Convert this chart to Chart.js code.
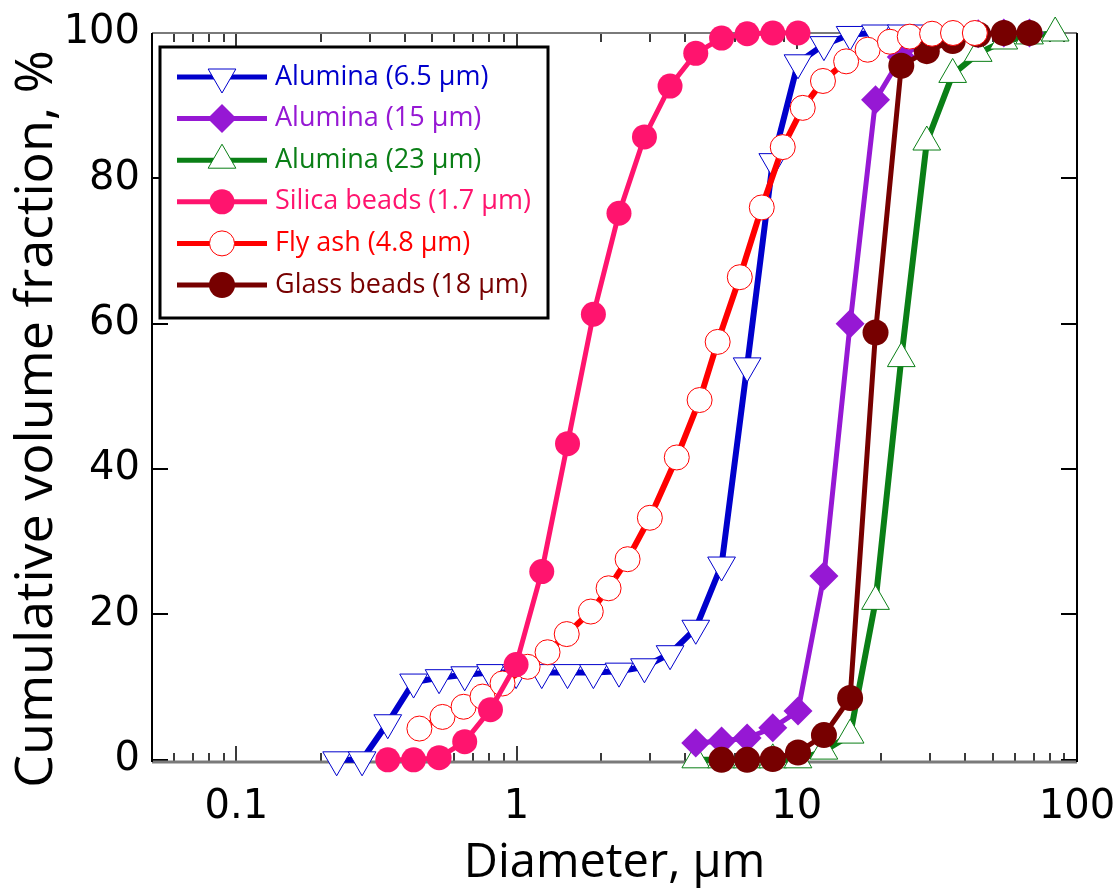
<!DOCTYPE html>
<html>
<head>
<meta charset="utf-8">
<script src="https://cdn.jsdelivr.net/npm/chart.js@4.4.1/dist/chart.umd.min.js"></script>
<style>
  html, body { margin: 0; padding: 0; background: #fff; }
  #wrap { width: 1119px; height: 891px; position: relative; }
</style>
</head>
<body>
<div id="wrap"><canvas id="psd_chart" width="1119" height="891"></canvas></div>
<script>
// cumulative volume fraction (%) vs diameter (um)
var alumina65Diam = [0.228, 0.281, 0.347, 0.429, 0.529, 0.653, 0.807, 0.996, 1.23, 1.52, 1.88, 2.32, 2.86, 3.53, 4.36, 5.39, 6.65, 8.21, 10.1, 12.5, 15.5, 19.1, 23.6, 29.1];
var alumina65Frac = [0, 0, 5.1, 10.7, 11.3, 11.7, 12.0, 12.0, 12.0, 12.0, 12.0, 12.2, 12.8, 14.6, 18.1, 26.8, 54.2, 82.3, 95.9, 98.4, 99.8, 100, 100, 100];

var alumina15Diam = [4.36, 5.39, 6.65, 8.21, 10.1, 12.5, 15.5, 19.1, 23.6, 29.1, 36.0, 44.4, 54.8, 67.7];
var alumina15Frac = [2.3, 2.6, 3.0, 4.4, 6.7, 25.3, 60.0, 90.8, 96.7, 99.0, 99.6, 99.9, 100, 100];

var alumina23Diam = [4.36, 5.39, 6.65, 8.21, 10.1, 12.5, 15.5, 19.1, 23.6, 29.1, 36.0, 44.4, 54.8, 67.7, 83.6];
var alumina23Frac = [0, 0, 0, 0, 0, 1.2, 3.4, 21.8, 55.2, 85.0, 94.3, 97.2, 98.9, 99.6, 100];

var silicaDiam = [0.347, 0.429, 0.529, 0.653, 0.807, 0.996, 1.23, 1.52, 1.88, 2.32, 2.86, 3.53, 4.36, 5.39, 6.65, 8.21, 10.1];
var silicaFrac = [0, 0, 0.3, 2.5, 6.9, 13.1, 25.9, 43.5, 61.3, 75.2, 85.7, 92.7, 97.2, 99.3, 99.9, 100, 100];

var flyAshDiam = [0.450, 0.544, 0.647, 0.756, 0.891, 1.095, 1.29, 1.51, 1.84, 2.13, 2.49, 2.99, 3.73, 4.50, 5.22, 6.26, 7.50, 8.91, 10.5, 12.4, 15.0, 17.9, 21.5, 25.3, 30.4, 36.1, 43.2];
var flyAshFrac = [4.3, 5.9, 7.3, 8.7, 10.5, 12.8, 14.8, 17.3, 20.4, 23.6, 27.6, 33.3, 41.6, 49.5, 57.5, 66.4, 76.0, 84.3, 89.7, 93.4, 96.1, 97.7, 98.8, 99.5, 99.9, 100, 100];

var glassDiam = [5.39, 6.65, 8.21, 10.1, 12.5, 15.5, 19.1, 23.6, 29.1, 36.0, 44.4, 54.8, 67.7];
var glassFrac = [0, 0, 0.1, 1.0, 3.4, 8.5, 58.8, 95.5, 97.5, 98.9, 99.8, 100, 100];

var xTickValues = [0.1, 1, 10, 100];
var yTickValues = [0, 20, 40, 60, 80, 100];

// series styling (legend order)
var seriesList = [
  { label: 'Alumina (6.5 µm)', diam: alumina65Diam, frac: alumina65Frac, color: '#0000cc', fill: '#ffffff', marker: 'triangle', rotation: 180, radius: 16, markerBorder: 1, lineWidth: 6, order: 5 },
  { label: 'Alumina (15 µm)', diam: alumina15Diam, frac: alumina15Frac, color: '#9618d4', fill: '#9618d4', marker: 'rectRot', rotation: 0, radius: 14.5, markerBorder: 0, lineWidth: 5, order: 3 },
  { label: 'Alumina (23 µm)', diam: alumina23Diam, frac: alumina23Frac, color: '#0a7f16', fill: '#ffffff', marker: 'triangle', rotation: 0, radius: 16, markerBorder: 1, lineWidth: 6, order: 4 },
  { label: 'Silica beads (1.7 µm)', diam: silicaDiam, frac: silicaFrac, color: '#ff146e', fill: '#ff146e', marker: 'circle', rotation: 0, radius: 12.5, markerBorder: 0, lineWidth: 5, order: 0 },
  { label: 'Fly ash (4.8 µm)', diam: flyAshDiam, frac: flyAshFrac, color: '#ff0000', fill: '#ffffff', marker: 'circle', rotation: 0, radius: 12.5, markerBorder: 1, lineWidth: 6, order: 1 },
  { label: 'Glass beads (18 µm)', diam: glassDiam, frac: glassFrac, color: '#770000', fill: '#770000', marker: 'circle', rotation: 0, radius: 13, markerBorder: 0, lineWidth: 5, order: 2 }
];

function toPoints(diam, frac) {
  return diam.map(function(d, i) { return { x: d, y: frac[i] }; });
}

function strokeLine(ctx, x1, y1, x2, y2) {
  ctx.beginPath();
  ctx.moveTo(x1, y1);
  ctx.lineTo(x2, y2);
  ctx.stroke();
}

// plot frame with inward ticks on all four sides
var frameAndTicks = {
  id: 'frameAndTicks',
  beforeDatasetsDraw: function(chart) {
    var ctx = chart.ctx, a = chart.chartArea;
    var xs = chart.scales.x, ys = chart.scales.y;
    ctx.save();
    ctx.lineCap = 'butt';
    ctx.strokeStyle = '#3a3a3a';
    ctx.lineWidth = 2;
    for (var p = -2; p <= 1; p++) {
      for (var k = 1; k <= 9; k++) {
        var v = k * Math.pow(10, p);
        if (v < xs.min || v > xs.max) continue;
        var px = Math.round(xs.getPixelForValue(v));
        var len = (k === 1) ? 16 : 9;
        strokeLine(ctx, px, a.bottom, px, a.bottom - len);
        strokeLine(ctx, px, a.top, px, a.top + len);
      }
    }
    ctx.strokeStyle = '#000';
    yTickValues.forEach(function(v) {
      var py = Math.round(ys.getPixelForValue(v));
      strokeLine(ctx, a.left, py, a.left + 16, py);
      strokeLine(ctx, a.right, py, a.right - 16, py);
    });
    // frame
    ctx.strokeStyle = '#7a7a7a';
    ctx.lineWidth = 2;
    strokeLine(ctx, a.left, a.top, a.right, a.top);
    ctx.lineWidth = 3;
    strokeLine(ctx, a.left, a.bottom, a.right, a.bottom);
    ctx.strokeStyle = '#000';
    ctx.lineWidth = 2;
    strokeLine(ctx, a.left, a.top, a.left, a.bottom);
    strokeLine(ctx, a.right, a.top, a.right, a.bottom);
    ctx.restore();
  }
};

var axisTitles = {
  id: 'axisTitles',
  afterDraw: function(chart) {
    var ctx = chart.ctx, a = chart.chartArea;
    ctx.save();
    ctx.fillStyle = '#000';
    ctx.textAlign = 'center';
    ctx.textBaseline = 'alphabetic';
    ctx.font = '47px "Open Sans"';
    ctx.fillText('Diameter, µm', (a.left + a.right) / 2, 877);
    ctx.translate(52, 419);
    ctx.rotate(-Math.PI / 2);
    ctx.font = '52px "Open Sans"';
    ctx.fillText('Cumulative volume fraction, %', 0, 0);
    ctx.restore();
  }
};

// boxed legend with line + marker samples
var legendBox = {
  id: 'legendBox',
  afterDatasetsDraw: function(chart) {
    var ctx = chart.ctx;
    ctx.save();
    ctx.fillStyle = '#fff';
    ctx.fillRect(160, 47, 388, 271);
    ctx.lineWidth = 3;
    ctx.strokeStyle = '#000';
    ctx.strokeRect(160, 47, 388, 271);
    seriesList.forEach(function(s, i) {
      var y = 77 + i * 41.6;
      ctx.strokeStyle = s.color;
      ctx.lineWidth = 5;
      strokeLine(ctx, 177, y, 267, y);
      ctx.fillStyle = s.fill;
      ctx.lineWidth = s.markerBorder;
      Chart.helpers.drawPoint(ctx, { pointStyle: s.marker, rotation: s.rotation, radius: s.radius, borderWidth: s.markerBorder }, 222, y);
      ctx.fillStyle = s.color;
      ctx.font = '27px "Open Sans"';
      ctx.textAlign = 'left';
      ctx.textBaseline = 'middle';
      ctx.fillText(s.label, 275, y);
    });
    ctx.restore();
  }
};

var chartCanvas = document.getElementById('psd_chart');
var psdChart = new Chart(chartCanvas.getContext('2d'), {
  type: 'line',
  data: {
    datasets: seriesList.map(function(s) {
      return {
        label: s.label,
        data: toPoints(s.diam, s.frac),
        borderColor: s.color,
        borderWidth: s.lineWidth,
        backgroundColor: s.fill,
        pointStyle: s.marker,
        pointRotation: s.rotation,
        pointRadius: s.radius,
        pointBackgroundColor: s.fill,
        pointBorderColor: s.color,
        pointBorderWidth: s.markerBorder,
        tension: 0,
        clip: false,
        order: s.order
      };
    })
  },
  options: {
    responsive: false,
    animation: false,
    devicePixelRatio: 1,
    layout: { padding: { top: 33, right: 42, bottom: 0, left: 0 } },
    plugins: { legend: { display: false }, tooltip: { enabled: false } },
    scales: {
      x: {
        type: 'logarithmic',
        min: 0.05,
        max: 100,
        grid: { display: false, drawTicks: false },
        border: { display: false },
        ticks: {
          autoSkip: false,
          maxRotation: 0,
          padding: 22,
          color: '#000',
          font: { family: 'DejaVu Sans', size: 40 },
          callback: function(value) { return String(value); }
        },
        afterBuildTicks: function(scale) {
          scale.ticks = xTickValues.map(function(v) { return { value: v }; });
        },
        afterFit: function(scale) {
          scale.height = 129;
          scale.paddingLeft = 0;
          scale.paddingRight = 0;
        }
      },
      y: {
        type: 'linear',
        min: -0.3,
        max: 100,
        grid: { display: false, drawTicks: false },
        border: { display: false },
        ticks: {
          padding: 12,
          color: '#000',
          font: { family: 'DejaVu Sans', size: 40 }
        },
        afterBuildTicks: function(scale) {
          scale.ticks = yTickValues.map(function(v) { return { value: v }; });
        },
        afterFit: function(scale) {
          scale.width = 152;
          scale.paddingTop = 0;
          scale.paddingBottom = 0;
        }
      }
    }
  },
  plugins: [frameAndTicks, axisTitles, legendBox]
});
</script>
</body>
</html>
